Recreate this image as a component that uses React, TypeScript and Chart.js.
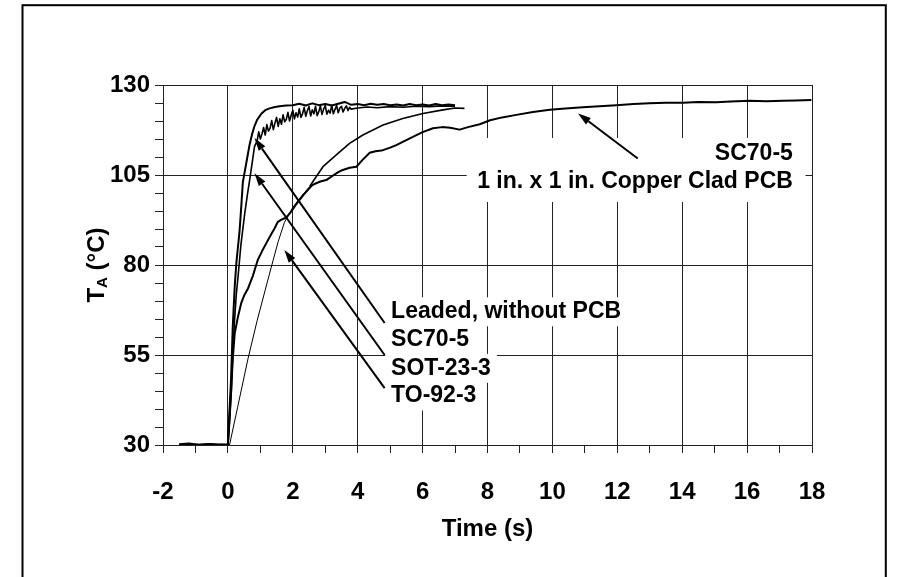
import React, { useEffect, useRef } from 'react';
import { Chart, registerables } from 'chart.js';

Chart.register(...registerables);

const FONT = '"Liberation Sans", Arial, Helvetica, sans-serif';

// Axis ranges and tick labels
const X_MIN = -2;
const X_MAX = 18;
const X_STEP = 1;
const Y_MIN = 30;
const Y_MAX = 130;
const Y_STEP = 5;
const xTickLabels = [-2, 0, 2, 4, 6, 8, 10, 12, 14, 16, 18];
const yTickLabels = [30, 55, 80, 105, 130];

const xTitle = 'Time (s)';
const yTitleMain = 'T';
const yTitleSub = 'A';
const yTitleRest = ' (°C)';

// SC70-5, leaded, without PCB (fastest)
const sc70Time = [-1.5, -1.2, -0.9, -0.6, -0.3, 0, 0.05, 0.1, 0.15, 0.21, 0.26, 0.31, 0.36, 0.41, 0.46, 0.52, 0.6, 0.67, 0.75, 0.82, 0.9, 1.03, 1.15, 1.28, 1.45, 1.59, 1.8, 2.0,
  2.2, 2.4, 2.6, 2.8, 3.0, 3.2, 3.4, 3.6, 3.8, 4.0, 4.2, 4.4, 4.6, 4.8, 5.0, 5.2, 5.4, 5.6, 5.8, 6.0, 6.2, 6.4, 6.6, 6.8, 7.0];
const sc70Temp = [30.2, 30.4, 30.1, 30.3, 30.1, 30.2, 39.7, 49, 62.9, 74, 80.5, 85, 89.5, 96, 103, 106, 110, 113.5, 116.5, 118.6, 120.3, 122, 123, 123.5, 123.9, 124.1, 124.3, 124.4,
  124.8, 124.3, 124.9, 124.4, 124.7, 124.3, 124.8, 125.3, 124.5, 124.7, 124.4, 124.8, 124.5, 124.7, 124.4, 124.6, 124.3, 124.7, 124.4, 124.6, 124.3, 124.7, 124.4, 124.6, 124.4];

// SOT-23-3, leaded, without PCB (noisy)
const sot23Time = [-1.5, -1.2, -0.9, -0.6, -0.3, 0, 0.05, 0.1, 0.15, 0.2, 0.26, 0.31, 0.4, 0.52, 0.6, 0.67, 0.75, 0.82,
  0.9, 0.95, 1.0, 1.05, 1.1, 1.15, 1.2, 1.25, 1.3, 1.35, 1.4, 1.45, 1.5, 1.55, 1.6, 1.65, 1.7, 1.75, 1.8, 1.85, 1.9, 1.95,
  2.0, 2.05, 2.1, 2.15, 2.2, 2.25, 2.3, 2.35, 2.4, 2.45, 2.5, 2.55, 2.6, 2.65, 2.7, 2.75, 2.8, 2.85, 2.9, 2.95,
  3.0, 3.05, 3.1, 3.15, 3.2, 3.25, 3.3, 3.35, 3.4, 3.45, 3.5, 3.55, 3.6, 3.65, 3.7, 3.75, 3.8,
  4.0, 4.3, 4.6, 5.0, 5.4, 5.8, 6.2, 6.6, 7.0];
const sot23Temp = [30.0, 30.2, 30.0, 30.1, 30.0, 30.1, 36, 44, 55, 64, 72, 76.5, 85.5, 94.4, 99.5, 103.6, 108.5, 112.9,
  114.5, 117.0, 115.0, 116.4, 118.2, 116.1, 119.0, 117.2, 118.0, 120.1, 117.6, 119.4, 121.0, 118.5, 120.6, 119.1, 121.7, 119.8, 120.5, 122.4, 120.0, 121.6,
  123.0, 120.6, 122.3, 121.1, 123.4, 121.0, 122.0, 123.8, 121.3, 122.9, 124.0, 121.4, 123.1, 122.0, 124.1, 121.5, 122.6, 124.2, 121.8, 123.3,
  124.3, 121.9, 123.0, 122.2, 124.4, 122.0, 123.2, 124.3, 122.3, 123.6, 124.1, 122.5, 123.5, 124.2, 122.9, 123.8, 123.3,
  123.6, 123.9, 123.7, 124.0, 123.8, 124.1, 124.0, 124.2, 124.1];

// TO-92-3, leaded, without PCB (slow start)
const to92Time = [-1.5, -1.0, -0.5, 0, 0.05, 0.3, 0.62, 0.9, 1.23, 1.39, 1.55, 1.74, 2.0, 2.21, 2.52, 2.72, 2.93, 3.34, 3.75, 4.16, 4.78, 5.39, 6.01, 6.63, 7.0, 7.29];
const to92Temp = [30.1, 30.2, 30.0, 30.1, 30.0, 40.5, 54, 64.5, 75.8, 81.2, 86.5, 91.8, 96, 98.5, 101.8, 104.5, 107.3, 110.6, 113.8, 116.1, 118.9, 120.7, 122.1, 123.1, 123.6, 123.5];

// SC70-5 on 1 in. x 1 in. copper clad PCB
const pcbTime = [-1.5, -1.0, -0.5, 0, 0.05, 0.1, 0.15, 0.21, 0.31, 0.41, 0.5, 0.62, 0.77, 0.92, 1.05, 1.18, 1.3, 1.44, 1.54, 1.65, 1.8, 1.95, 2.1, 2.21,
  2.33, 2.46, 2.6, 2.72, 2.85, 3.03, 3.2, 3.4, 3.54, 3.75, 3.96, 4.15, 4.37, 4.55, 4.78, 5.0, 5.19, 5.45, 5.7, 6.0, 6.32, 6.6, 6.85, 7.14,
  7.4, 7.76, 8.08, 8.45, 8.89, 9.4, 9.92, 10.4, 10.94, 11.45, 11.97, 12.5, 12.99, 13.5, 14.02, 14.5, 15.05, 15.5, 16.08, 16.6, 17.1, 17.5, 17.98];
const pcbTemp = [30.1, 30.0, 30.2, 30.0, 38, 45, 54, 61, 65.6, 69.4, 71.5, 73.5, 77, 81.4, 83.8, 86, 88, 90.2, 92, 92.6, 93.2, 94.8, 96.8, 98.1,
  99.5, 100.8, 102.2, 102.7, 103.2, 103.6, 104.6, 105.8, 106.4, 107, 107.3, 109.2, 111.2, 111.6, 111.9, 112.6, 113.3, 114.5, 115.6, 116.9, 118, 118.3, 118.1, 117.6,
  118.3, 119.1, 120.2, 121, 121.7, 122.5, 123.1, 123.5, 123.8, 124.1, 124.4, 124.7, 124.9, 125.1, 125.1, 125.3, 125.2, 125.4, 125.6, 125.5, 125.6, 125.7, 125.8];

// Annotations (data coordinates)
const leftLabels = ['Leaded, without PCB', 'SC70-5', 'SOT-23-3', 'TO-92-3'];
const leftLabelX = 5.03;
const leftLabelY = [67.0, 59.2, 51.3, 43.6];
const rightLabels = ['SC70-5', '1 in. x 1 in. Copper Clad PCB'];
const rightLabelX = 17.41;
const rightLabelY = [110.8, 103.1];
const rightBoxX = [7.36, 17.8];
const rightBoxY = [97.5, 115.3];
const arrowTailX = [4.83, 4.83, 4.83, 12.63];
const arrowTailY = [63.9, 55.0, 45.8, 109.6];
const arrowTipX = [0.82, 0.82, 1.74, 10.79];
const arrowTipY = [115.3, 105.5, 84.2, 122.1];

const pairs = (xs: number[], ys: number[]) =>
  xs.slice(0, Math.min(xs.length, ys.length)).map((x, i) => ({ x, y: ys[i] }));

const annotPlugin = {
  id: 'annot',
  beforeDraw(chart: any) {
    const ctx = chart.ctx;
    ctx.save();
    ctx.fillStyle = '#fff';
    ctx.fillRect(0, 0, chart.width, chart.height);
    ctx.restore();
  },
  beforeDatasetsDraw(chart: any) {
    const { ctx } = chart;
    const xs = chart.scales.x;
    const ys = chart.scales.y;
    ctx.save();
    ctx.fillStyle = '#fff';
    const bx0 = xs.getPixelForValue(rightBoxX[0]);
    const bx1 = xs.getPixelForValue(rightBoxX[1]);
    const by0 = ys.getPixelForValue(rightBoxY[1]);
    const by1 = ys.getPixelForValue(rightBoxY[0]);
    ctx.fillRect(bx0, by0, bx1 - bx0, by1 - by0);
    ctx.font = `bold 23px ${FONT}`;
    leftLabels.forEach((t, i) => {
      const lx = xs.getPixelForValue(leftLabelX);
      const ly = ys.getPixelForValue(leftLabelY[i]);
      const w = ctx.measureText(t).width;
      ctx.fillRect(lx - 6, ly - 14.5, w + 12, 29);
    });
    ctx.restore();
  },
  afterDatasetsDraw(chart: any) {
    const { ctx, chartArea } = chart;
    const xs = chart.scales.x;
    const ys = chart.scales.y;
    ctx.save();
    // arrows
    ctx.strokeStyle = '#000';
    ctx.fillStyle = '#000';
    ctx.lineWidth = 2;
    for (let i = 0; i < arrowTailX.length; i++) {
      const x0 = xs.getPixelForValue(arrowTailX[i]);
      const y0 = ys.getPixelForValue(arrowTailY[i]);
      const x1 = xs.getPixelForValue(arrowTipX[i]);
      const y1 = ys.getPixelForValue(arrowTipY[i]);
      const ang = Math.atan2(y1 - y0, x1 - x0);
      const L = 13;
      const W = 4;
      const bxp = x1 - L * Math.cos(ang);
      const byp = y1 - L * Math.sin(ang);
      ctx.beginPath();
      ctx.moveTo(x0, y0);
      ctx.lineTo(bxp, byp);
      ctx.stroke();
      ctx.beginPath();
      ctx.moveTo(x1, y1);
      ctx.lineTo(bxp + W * Math.sin(ang), byp - W * Math.cos(ang));
      ctx.lineTo(bxp - W * Math.sin(ang), byp + W * Math.cos(ang));
      ctx.closePath();
      ctx.fill();
    }
    // labels
    ctx.font = `bold 23px ${FONT}`;
    ctx.textBaseline = 'middle';
    ctx.textAlign = 'left';
    leftLabels.forEach((t, i) => {
      ctx.fillText(t, xs.getPixelForValue(leftLabelX), ys.getPixelForValue(leftLabelY[i]));
    });
    ctx.textAlign = 'right';
    rightLabels.forEach((t, i) => {
      ctx.fillText(t, xs.getPixelForValue(rightLabelX), ys.getPixelForValue(rightLabelY[i]));
    });
    // axis titles
    const cx = (chartArea.left + chartArea.right) / 2;
    const cy = (chartArea.top + chartArea.bottom) / 2;
    ctx.textAlign = 'center';
    ctx.font = `bold 24px ${FONT}`;
    ctx.fillText(xTitle, cx, 529);
    ctx.translate(97, cy);
    ctx.rotate(-Math.PI / 2);
    ctx.textAlign = 'left';
    ctx.font = `bold 24px ${FONT}`;
    const wT = ctx.measureText(yTitleMain).width;
    const wR = ctx.measureText(yTitleRest).width;
    ctx.font = `bold 15px ${FONT}`;
    const wA = ctx.measureText(yTitleSub).width;
    let sx = -(wT + wA + wR) / 2;
    ctx.font = `bold 24px ${FONT}`;
    ctx.fillText(yTitleMain, sx, 0);
    sx += wT;
    ctx.font = `bold 15px ${FONT}`;
    ctx.fillText(yTitleSub, sx, 6);
    sx += wA;
    ctx.font = `bold 24px ${FONT}`;
    ctx.fillText(yTitleRest, sx, 0);
    ctx.restore();
    // outer frame
    ctx.save();
    ctx.strokeStyle = '#000';
    ctx.lineWidth = 2;
    ctx.strokeRect(22.5, 5.2, 863.3, 700);
    ctx.restore();
  },
};

export default function App() {
  const ref = useRef<HTMLCanvasElement>(null);
  useEffect(() => {
    const canvas = ref.current;
    if (!canvas) return;
    const tickFont = { family: FONT, size: 24, weight: 'bold' as const };
    const chart = new Chart(canvas, {
      type: 'line',
      data: {
        datasets: [
          { label: 'SC70-5', data: pairs(sc70Time, sc70Temp), borderColor: '#000', borderWidth: 2, pointRadius: 0, tension: 0, borderJoinStyle: 'round' },
          { label: 'SOT-23-3', data: pairs(sot23Time, sot23Temp), borderColor: '#000', borderWidth: 1.6, pointRadius: 0, tension: 0, borderJoinStyle: 'round' },
          {
            label: 'TO-92-3', data: pairs(to92Time, to92Temp), borderColor: '#000', borderWidth: 1, pointRadius: 0, tension: 0, borderJoinStyle: 'round',
            segment: { borderWidth: (c: any) => (c.p0.parsed.x >= 2.5 ? 1.6 : 1) },
          },
          { label: 'SC70-5 on PCB', data: pairs(pcbTime, pcbTemp), borderColor: '#000', borderWidth: 2, pointRadius: 0, tension: 0, borderJoinStyle: 'round' },
        ],
      },
      options: {
        responsive: true,
        maintainAspectRatio: false,
        animation: false,
        events: [],
        layout: { padding: { left: 0, right: 85, top: 85, bottom: 0 } },
        plugins: { legend: { display: false }, tooltip: { enabled: false }, title: { display: false } },
        scales: {
          x: {
            type: 'linear',
            min: X_MIN,
            max: X_MAX,
            afterFit: (s: any) => { s.height = 132; },
            ticks: {
              stepSize: X_STEP,
              autoSkip: false,
              maxRotation: 0,
              padding: 25,
              color: '#000',
              font: tickFont,
              callback: (v: any) => (xTickLabels.includes(Number(v)) ? String(v) : ''),
            },
            grid: {
              color: (c: any) => (xTickLabels.includes(c.tick?.value) ? '#222' : 'rgba(0,0,0,0)'),
              tickColor: '#222',
              tickLength: 8,
              lineWidth: 1,
            },
            border: { display: true, color: '#222', width: 1 },
          },
          y: {
            type: 'linear',
            min: Y_MIN,
            max: Y_MAX,
            afterFit: (s: any) => { s.width = 163; },
            ticks: {
              stepSize: Y_STEP,
              autoSkip: false,
              padding: 5,
              color: '#000',
              font: tickFont,
              callback: (v: any) => (yTickLabels.includes(Number(v)) ? String(v) : ''),
            },
            grid: {
              color: (c: any) => (yTickLabels.includes(c.tick?.value) ? '#222' : 'rgba(0,0,0,0)'),
              tickColor: '#222',
              tickLength: 8,
              lineWidth: 1,
            },
            border: { display: true, color: '#222', width: 1 },
          },
        },
      },
      plugins: [annotPlugin],
    });
    return () => chart.destroy();
  }, []);
  return (
    <div style={{ position: 'fixed', left: 0, top: 0, width: 897, height: 577, background: '#fff' }}>
      <canvas ref={ref} />
    </div>
  );
}
